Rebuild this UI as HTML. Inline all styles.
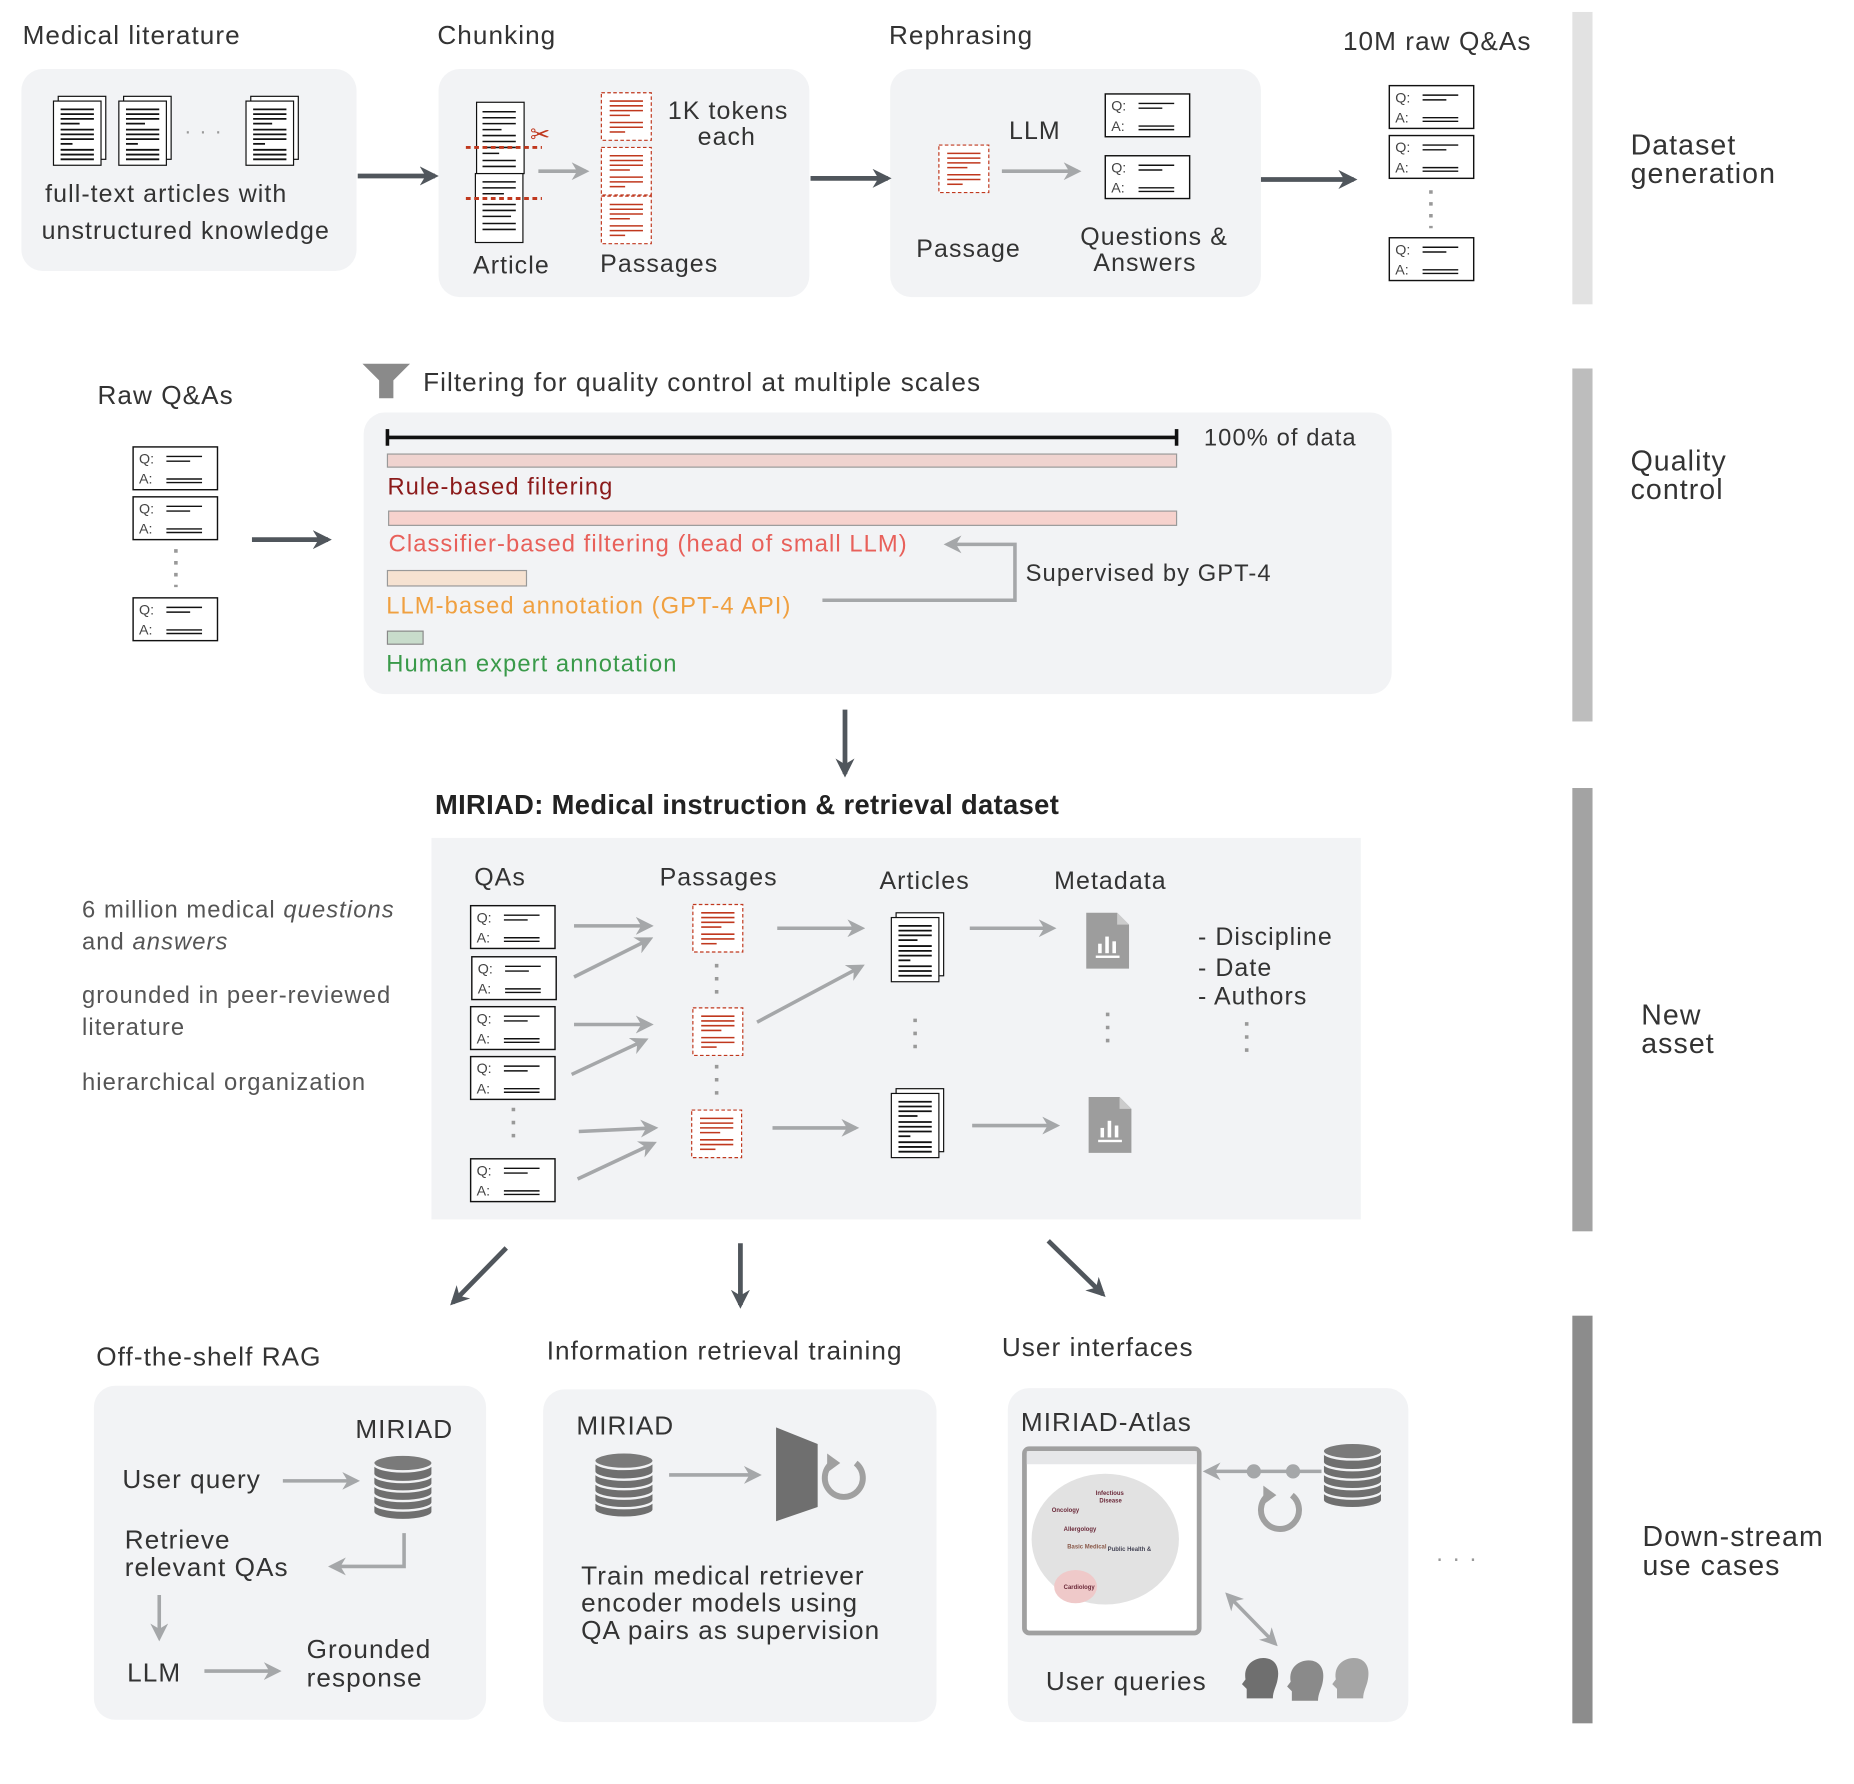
<!DOCTYPE html>
<html><head><meta charset="utf-8"><style>
html,body{margin:0;padding:0;background:#fff}
svg{display:block}
text{font-family:"Liberation Sans",Arial,sans-serif;fill:#333;letter-spacing:0.9px}
.s{letter-spacing:0}
</style></head><body>
<svg width="1854" height="1784" viewBox="0 0 1560 1501" xmlns="http://www.w3.org/2000/svg">
<defs>
<marker id="ad" viewBox="0 0 10 10" refX="8" refY="5" markerWidth="4" markerHeight="4" orient="auto"><path d="M0,0 L10,5 L0,10 L3,5z" fill="#50565c"/></marker>
<marker id="ag" viewBox="0 0 10 10" refX="8" refY="5" markerWidth="5" markerHeight="5" orient="auto-start-reverse"><path d="M0,0 L10,5 L0,10 L3,5z" fill="#a5a7a9"/></marker>
<g id="doc"><rect x="4" y="0" width="40" height="53" fill="#fff" stroke="#111" stroke-width="1"/><rect x="0" y="4" width="40" height="54" fill="#fff" stroke="#111" stroke-width="1"/>
<g stroke="#111" stroke-width="1.5"><line x1="6" y1="11" x2="34" y2="11"/><line x1="6" y1="15" x2="34" y2="15"/><line x1="6" y1="19" x2="34" y2="19"/><line x1="6" y1="23" x2="22" y2="23"/><line x1="6" y1="28" x2="34" y2="28"/><line x1="6" y1="32" x2="34" y2="32"/><line x1="6" y1="36" x2="34" y2="36"/><line x1="6" y1="40" x2="16" y2="40"/><line x1="6" y1="45" x2="34" y2="45"/><line x1="6" y1="49" x2="34" y2="49"/><line x1="6" y1="53" x2="34" y2="53"/></g></g>
<g id="qa"><rect x="0" y="0" width="71" height="36" fill="#fff" stroke="#111" stroke-width="1.2"/><text class="s" x="5" y="14" font-size="12" style="fill:#444">Q:</text><text class="s" x="5" y="31" font-size="12" style="fill:#444">A:</text>
<g stroke="#111" stroke-width="1.2"><line x1="28" y1="8" x2="58" y2="8"/><line x1="28" y1="12" x2="48" y2="12"/><line x1="28" y1="27" x2="58" y2="27"/><line x1="28" y1="30" x2="58" y2="30"/></g></g>
<g id="pas"><rect x="0" y="0" width="42" height="40" fill="#fff" stroke="#c0381e" stroke-width="1" stroke-dasharray="3,2"/>
<g stroke="#c0381e" stroke-width="1.3"><line x1="7" y1="7" x2="35" y2="7"/><line x1="7" y1="11" x2="35" y2="11"/><line x1="7" y1="15" x2="35" y2="15"/><line x1="7" y1="19" x2="24" y2="19"/><line x1="7" y1="25" x2="35" y2="25"/><line x1="7" y1="29" x2="35" y2="29"/><line x1="7" y1="33" x2="20" y2="33"/></g></g>
<g id="meta"><path d="M0,0 H26 L36,10 V47 H0z" fill="#9d9d9d"/><path d="M26,0 V10 H36" fill="#ccc"/><g fill="#fff"><rect x="10" y="26" width="3" height="8"/><rect x="16" y="20" width="3" height="14"/><rect x="22" y="24" width="3" height="10"/><rect x="8" y="36" width="20" height="2"/></g></g>
<g id="db"><g fill="#6f6f6f" stroke="#f2f3f5" stroke-width="2"><path d="M0,42 v8 a25,7 0 0 0 50,0 v-8z"/><path d="M0,34 v8 a25,7 0 0 0 50,0 v-8z"/><path d="M0,26 v8 a25,7 0 0 0 50,0 v-8z"/><path d="M0,18 v8 a25,7 0 0 0 50,0 v-8z"/><path d="M0,10 v8 a25,7 0 0 0 50,0 v-8z"/></g><ellipse cx="25" cy="9" rx="25" ry="7" fill="#7a7a7a" stroke="#f2f3f5" stroke-width="2"/></g>
<g id="ref"><path d="M10,-12 A16,16 0 1 1 -10,-12" fill="none" stroke="#a0a0a0" stroke-width="5"/><path d="M-14,-20 L-3,-12 L-14,-4z" fill="#a0a0a0"/></g>
<g id="head"><path d="M4,34 V26 L0,22 L3,18 C1,6 10,0 18,0 C28,0 32,8 30,18 C29,24 26,28 26,34z"/></g>
</defs>

<rect x="1323" y="10" width="17" height="246" fill="#e2e2e2"/>
<rect x="1323" y="310" width="17" height="297" fill="#bdbdbd"/>
<rect x="1323" y="663" width="17" height="373" fill="#a3a3a3"/>
<rect x="1323" y="1107" width="17" height="343" fill="#8c8c8c"/>
<g font-size="24"><text x="1372" y="130">Dataset</text><text x="1372" y="154">generation</text>
<text x="1372" y="396">Quality</text><text x="1372" y="420">control</text>
<text x="1381" y="862">New</text><text x="1381" y="886">asset</text>
<text x="1382" y="1301">Down-stream</text><text x="1382" y="1325">use cases</text></g>

<g font-size="22"><text x="19" y="37">Medical literature</text><text x="368" y="37">Chunking</text><text x="748" y="37">Rephrasing</text><text x="1130" y="42">10M raw Q&amp;As</text></g>
<rect x="18" y="58" width="282" height="170" rx="18" fill="#f2f3f5"/>
<rect x="369" y="58" width="312" height="192" rx="18" fill="#f2f3f5"/>
<rect x="749" y="58" width="312" height="192" rx="18" fill="#f2f3f5"/>
<use href="#doc" x="45" y="81"/><use href="#doc" x="100" y="81"/><use href="#doc" x="207" y="81"/>
<text x="155" y="116" font-size="18" style="fill:#999">· · ·</text>
<text x="38" y="170" font-size="21">full-text articles with</text>
<text x="35" y="201" font-size="21">unstructured knowledge</text>
<line x1="301" y1="148" x2="366" y2="148" stroke="#50565c" stroke-width="4" marker-end="url(#ad)"/>
<line x1="682" y1="150" x2="747" y2="150" stroke="#50565c" stroke-width="4" marker-end="url(#ad)"/>
<line x1="1061" y1="151" x2="1139" y2="151" stroke="#50565c" stroke-width="4" marker-end="url(#ad)"/>
<rect x="401" y="86" width="40" height="60" fill="#fff" stroke="#111"/>
<rect x="400" y="146" width="40" height="58" fill="#fff" stroke="#111"/>
<g stroke="#111" stroke-width="1.3"><line x1="406" y1="94" x2="434" y2="94"/><line x1="406" y1="99" x2="434" y2="99"/><line x1="406" y1="104" x2="434" y2="104"/><line x1="406" y1="109" x2="422" y2="109"/><line x1="406" y1="114" x2="434" y2="114"/><line x1="406" y1="119" x2="434" y2="119"/><line x1="406" y1="124" x2="434" y2="124"/><line x1="406" y1="129" x2="420" y2="129"/><line x1="406" y1="135" x2="434" y2="135"/><line x1="406" y1="140" x2="434" y2="140"/>
<line x1="406" y1="153" x2="434" y2="153"/><line x1="406" y1="158" x2="434" y2="158"/><line x1="406" y1="163" x2="424" y2="163"/><line x1="406" y1="172" x2="434" y2="172"/><line x1="406" y1="177" x2="434" y2="177"/><line x1="406" y1="182" x2="430" y2="182"/><line x1="406" y1="188" x2="434" y2="188"/><line x1="406" y1="193" x2="434" y2="193"/></g>
<line x1="392" y1="124" x2="456" y2="124" stroke="#c0381e" stroke-width="2.5" stroke-dasharray="4,3"/>
<line x1="392" y1="167" x2="456" y2="167" stroke="#c0381e" stroke-width="2.5" stroke-dasharray="4,3"/>
<text class="s" x="446" y="120" font-size="20" style="fill:#c0381e">✂</text>
<line x1="453" y1="144" x2="493" y2="144" stroke="#a5a7a9" stroke-width="3" marker-end="url(#ag)"/>
<use href="#pas" x="506" y="78"/><use href="#pas" x="506" y="124"/><use href="#pas" x="506" y="165"/>
<text x="562" y="100" font-size="21">1K tokens</text><text x="587" y="122" font-size="21">each</text>
<text x="398" y="230" font-size="21">Article</text><text x="505" y="229" font-size="21">Passages</text>
<use href="#pas" x="790" y="122"/>
<text x="849" y="117" font-size="21">LLM</text>
<line x1="843" y1="144" x2="907" y2="144" stroke="#a5a7a9" stroke-width="3" marker-end="url(#ag)"/>
<use href="#qa" x="930" y="79"/><use href="#qa" x="930" y="131"/>
<text x="771" y="216" font-size="21">Passage</text>
<text x="909" y="206" font-size="21">Questions &amp;</text><text x="920" y="228" font-size="21">Answers</text>
<use href="#qa" x="1169" y="72"/><use href="#qa" x="1169" y="114"/><use href="#qa" x="1169" y="200"/>
<line x1="1204" y1="160" x2="1204" y2="192" stroke="#999" stroke-width="3" stroke-dasharray="3,7"/>

<text x="82" y="340" font-size="22">Raw Q&amp;As</text>
<use href="#qa" x="112" y="376"/><use href="#qa" x="112" y="418"/><use href="#qa" x="112" y="503"/>
<line x1="148" y1="462" x2="148" y2="494" stroke="#999" stroke-width="3" stroke-dasharray="3,7"/>
<line x1="212" y1="454" x2="276" y2="454" stroke="#50565c" stroke-width="4" marker-end="url(#ad)"/>
<path d="M305,306 H345 L331,320 V335 L319,335 V320z" fill="#8a8a8a"/>
<text x="356" y="329" font-size="22">Filtering for quality control at multiple scales</text>
<rect x="306" y="347" width="865" height="237" rx="18" fill="#f2f3f5"/>
<g stroke="#111" stroke-width="3"><line x1="326" y1="368" x2="990" y2="368"/><line x1="326" y1="361" x2="326" y2="375"/><line x1="990" y1="361" x2="990" y2="375"/></g>
<text x="1013" y="375" font-size="20">100% of data</text>
<rect x="326" y="382" width="664" height="11" fill="#efd3cf" stroke="#999"/>
<text x="326" y="416" font-size="20" style="fill:#8b1a1a">Rule-based filtering</text>
<rect x="327" y="430" width="663" height="12" fill="#f6d2cd" stroke="#999"/>
<text x="327" y="464" font-size="20" style="fill:#e8605a">Classifier-based filtering  (head of small LLM)</text>
<rect x="326" y="480" width="117" height="13" fill="#f6e2d1" stroke="#999"/>
<text x="325" y="516" font-size="20" style="fill:#f0a040">LLM-based annotation (GPT-4 API)</text>
<rect x="326" y="531" width="30" height="11" fill="#c8dccb" stroke="#888"/>
<text x="325" y="565" font-size="20" style="fill:#3a9a4a">Human expert annotation</text>
<path d="M692,505 H854 V458 H797" fill="none" stroke="#a5a7a9" stroke-width="3" marker-end="url(#ag)"/>
<text x="863" y="489" font-size="20">Supervised by GPT-4</text>
<line x1="711" y1="597" x2="711" y2="651" stroke="#50565c" stroke-width="4" marker-end="url(#ad)"/>

<text x="366" y="685" font-size="23" font-weight="bold" style="fill:#222;letter-spacing:0.3px">MIRIAD: Medical instruction &amp; retrieval dataset</text>
<rect x="363" y="705" width="782" height="321" fill="#f2f3f5"/>
<g font-size="20"><text x="69" y="772" style="fill:#555">6 million medical <tspan font-style="italic">questions</tspan></text><text x="69" y="799" style="fill:#555">and <tspan font-style="italic">answers</tspan></text>
<text x="69" y="844" style="fill:#555">grounded in peer-reviewed</text><text x="69" y="871" style="fill:#555">literature</text><text x="69" y="917" style="fill:#555">hierarchical organization</text></g>
<g font-size="21"><text x="399" y="745">QAs</text><text x="555" y="745">Passages</text><text x="740" y="748">Articles</text><text x="887" y="748">Metadata</text></g>
<use href="#qa" x="396" y="762"/><use href="#qa" x="397" y="805"/><use href="#qa" x="396" y="847"/><use href="#qa" x="396" y="889"/><use href="#qa" x="396" y="975"/>
<line x1="432" y1="932" x2="432" y2="962" stroke="#999" stroke-width="3" stroke-dasharray="3,8"/>
<use href="#pas" x="583" y="761"/><use href="#pas" x="583" y="848"/><use href="#pas" x="582" y="934"/>
<line x1="603" y1="811" x2="603" y2="840" stroke="#999" stroke-width="3" stroke-dasharray="3,8"/>
<line x1="603" y1="896" x2="603" y2="926" stroke="#999" stroke-width="3" stroke-dasharray="3,8"/>
<g stroke="#a5a7a9" stroke-width="3" marker-end="url(#ag)">
<line x1="483" y1="779" x2="547" y2="779"/><line x1="483" y1="822" x2="547" y2="790"/><line x1="483" y1="862" x2="547" y2="862"/><line x1="481" y1="904" x2="543" y2="875"/><line x1="487" y1="952" x2="551" y2="949"/><line x1="486" y1="992" x2="550" y2="962"/>
<line x1="654" y1="781" x2="725" y2="781"/><line x1="637" y1="860" x2="725" y2="813"/><line x1="650" y1="949" x2="720" y2="949"/>
<line x1="816" y1="781" x2="886" y2="781"/><line x1="818" y1="947" x2="889" y2="947"/></g>
<use href="#doc" x="750" y="768"/><use href="#doc" x="750" y="916"/>
<line x1="770" y1="857" x2="770" y2="887" stroke="#999" stroke-width="3" stroke-dasharray="3,8"/>
<use href="#meta" x="914" y="768"/><use href="#meta" x="916" y="923"/>
<line x1="932" y1="852" x2="932" y2="884" stroke="#999" stroke-width="3" stroke-dasharray="3,8"/>
<g font-size="21"><text x="1008" y="795">- Discipline</text><text x="1008" y="821">- Date</text><text x="1008" y="845">- Authors</text></g>
<line x1="1049" y1="860" x2="1049" y2="890" stroke="#999" stroke-width="3" stroke-dasharray="3,8"/>

<g stroke="#50565c" stroke-width="4" marker-end="url(#ad)"><line x1="426" y1="1050" x2="381" y2="1096"/><line x1="623" y1="1046" x2="623" y2="1098"/><line x1="882" y1="1044" x2="928" y2="1089"/></g>
<g font-size="22"><text x="81" y="1149">Off-the-shelf RAG</text><text x="460" y="1144">Information retrieval training</text><text x="843" y="1141">User interfaces</text></g>
<rect x="79" y="1166" width="330" height="281" rx="18" fill="#f2f3f5"/>
<rect x="457" y="1169" width="331" height="280" rx="18" fill="#f2f3f5"/>
<rect x="848" y="1168" width="337" height="281" rx="18" fill="#f2f3f5"/>
<g font-size="22"><text x="299" y="1210">MIRIAD</text><text x="103" y="1252">User query</text><text x="105" y="1303">Retrieve</text><text x="105" y="1326">relevant QAs</text><text x="107" y="1415">LLM</text><text x="258" y="1395">Grounded</text><text x="258" y="1419">response</text></g>
<use href="#db" x="314" y="1222"/>
<g stroke="#a5a7a9" stroke-width="3" fill="none" marker-end="url(#ag)"><line x1="238" y1="1246" x2="300" y2="1246"/><path d="M340,1290 V1318 H279"/><line x1="134" y1="1342" x2="134" y2="1378"/><line x1="172" y1="1406" x2="234" y2="1406"/></g>
<text x="485" y="1207" font-size="22">MIRIAD</text>
<use href="#db" x="500" y="1220"/>
<line x1="563" y1="1241" x2="638" y2="1241" stroke="#a5a7a9" stroke-width="3" marker-end="url(#ag)"/>
<path d="M653,1201 L688,1215 V1268 L653,1280z" fill="#6f6f6f"/>
<use href="#ref" x="710" y="1243"/>
<g font-size="22"><text x="489" y="1333">Train medical retriever</text><text x="489" y="1356">encoder models using</text><text x="489" y="1379">QA pairs as supervision</text></g>
<text x="859" y="1204" font-size="22">MIRIAD-Atlas</text>
<rect x="862" y="1219" width="147" height="155" rx="4" fill="#fff" stroke="#a0a0a0" stroke-width="4"/>
<rect x="864" y="1221" width="143" height="11" fill="#e6e7e9"/>
<ellipse cx="930" cy="1295" rx="62" ry="55" fill="#e2e2e2"/>
<ellipse cx="905" cy="1335" rx="18" ry="14" fill="#efc9c9"/>
<g font-size="5" font-weight="bold"><text class="s" x="922" y="1258" style="fill:#6b2a3a">Infectious</text><text class="s" x="925" y="1264" style="fill:#6b2a3a">Disease</text><text class="s" x="885" y="1272" style="fill:#6b2a3a">Oncology</text><text class="s" x="895" y="1288" style="fill:#6b2a3a">Allergology</text><text class="s" x="898" y="1303" style="fill:#8a5a4a">Basic Medical</text><text class="s" x="932" y="1305" style="fill:#445">Public Health &amp;</text><text class="s" x="895" y="1337" style="fill:#6b2a3a">Cardiology</text></g>
<line x1="1088" y1="1238" x2="1015" y2="1238" stroke="#a5a7a9" stroke-width="3" marker-end="url(#ag)"/>
<circle cx="1055" cy="1238" r="6" fill="#a5a7a9"/><circle cx="1088" cy="1238" r="6" fill="#a5a7a9"/>
<line x1="1088" y1="1238" x2="1112" y2="1238" stroke="#a5a7a9" stroke-width="3"/>
<use href="#db" x="1113" y="1212"/>
<use href="#ref" x="1077" y="1270"/>
<line x1="1033" y1="1342" x2="1073" y2="1383" stroke="#a5a7a9" stroke-width="3" marker-start="url(#ag)" marker-end="url(#ag)"/>
<text x="880" y="1422" font-size="22">User queries</text>
<use href="#head" x="1045" y="1395" fill="#6f6f6f"/><use href="#head" x="1083" y="1397" fill="#8a8a8a"/><use href="#head" x="1121" y="1395" fill="#a5a5a5"/>
<text x="1208" y="1318" font-size="20" style="fill:#999">· · ·</text>
</svg>
</body></html>
